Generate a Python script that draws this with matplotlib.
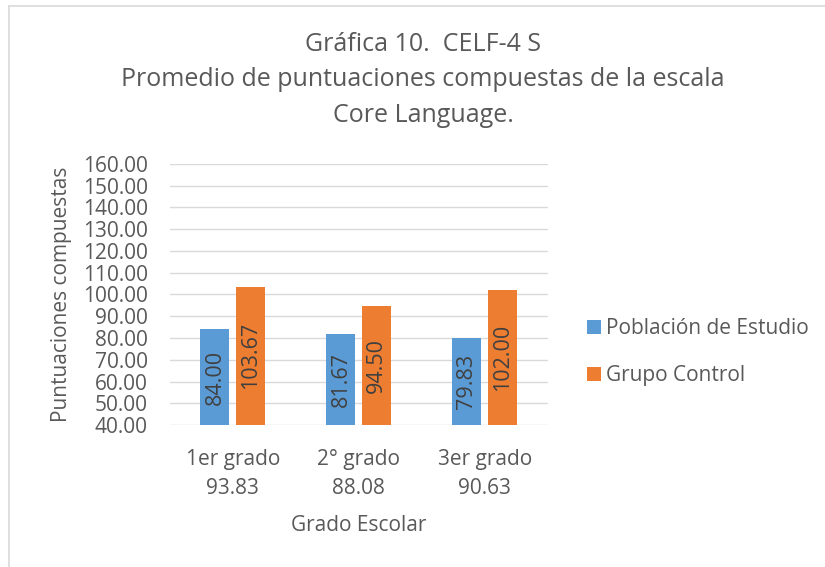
import numpy as np
import matplotlib
matplotlib.use('Agg')
import matplotlib.pyplot as plt
from matplotlib.lines import Line2D

plt.rcParams['font.family'] = ['Open Sans', 'DejaVu Sans']

grados = ['1er grado', '2° grado', '3er grado']
promedios = ['93.83', '88.08', '90.63']
poblacion = [84.00, 81.67, 79.83]
control = [103.67, 94.50, 102.00]
yticks = np.arange(40, 161, 10)

gray = '#595959'
blue = '#5B9BD5'
orange = '#ED7D31'

fig = plt.figure(figsize=(8.25, 5.67), dpi=100)
ax = fig.add_axes([0.206, 0.2504, 0.458, 0.4604])

x = np.arange(len(grados))
w = 0.23
gap = 0.055
b1 = ax.bar(x - (w + gap) / 2, [v - 40 for v in poblacion], w, bottom=40, color=blue,
            label='Población de Estudio', zorder=3)
b2 = ax.bar(x + (w + gap) / 2, [v - 40 for v in control], w, bottom=40, color=orange,
            label='Grupo Control', zorder=3)

for bars, vals in ((b1, poblacion), (b2, control)):
    for r, v in zip(bars, vals):
        ax.text(r.get_x() + r.get_width() / 2, (40 + v) / 2, f'{v:.2f}', rotation=90,
                ha='center', va='center', fontsize=15.5, color='#404040', zorder=4)

ax.set_xlim(-0.5, 2.5)
ax.set_ylim(40, 160)
ax.set_yticks(yticks)
ax.set_yticklabels([f'{t:.2f}' for t in yticks], fontsize=15, color=gray)
ax.set_xticks(x)
ax.set_xticklabels([f'{g}\n{p}' for g, p in zip(grados, promedios)], fontsize=15,
                   color=gray, linespacing=1.5)
ax.tick_params(axis='x', length=0, pad=17)
ax.tick_params(axis='y', length=0, pad=16)
ax.grid(axis='y', color='#D9D9D9', linewidth=1, zorder=0)
for s in ax.spines.values():
    s.set_visible(False)

ax.set_xlabel('Grado Escolar', fontsize=15, color=gray, labelpad=12)
ax.set_ylabel('Puntuaciones compuestas', fontsize=15, color=gray, labelpad=8)

fig.text(0.513, 0.859, 'Gráfica 10.  CELF-4 S\nPromedio de puntuaciones compuestas de la escala\nCore Language.',
         ha='center', va='center', fontsize=18, color=gray, linespacing=1.55)

ax.legend(loc='center left', bbox_to_anchor=(1.104, 0.28), frameon=False, fontsize=15,
          labelcolor=gray, handlelength=0.65, handleheight=0.65, handletextpad=0.25,
          labelspacing=1.25, borderpad=0, borderaxespad=0)

# chart border (cropped)
fig.add_artist(Line2D([0.0115, 0.0115], [0, 0.99], transform=fig.transFigure, color='#D9D9D9', lw=1.2))
fig.add_artist(Line2D([0.0115, 1], [0.99, 0.99], transform=fig.transFigure, color='#D9D9D9', lw=1.2))

fig.savefig('out.png', dpi=100)
